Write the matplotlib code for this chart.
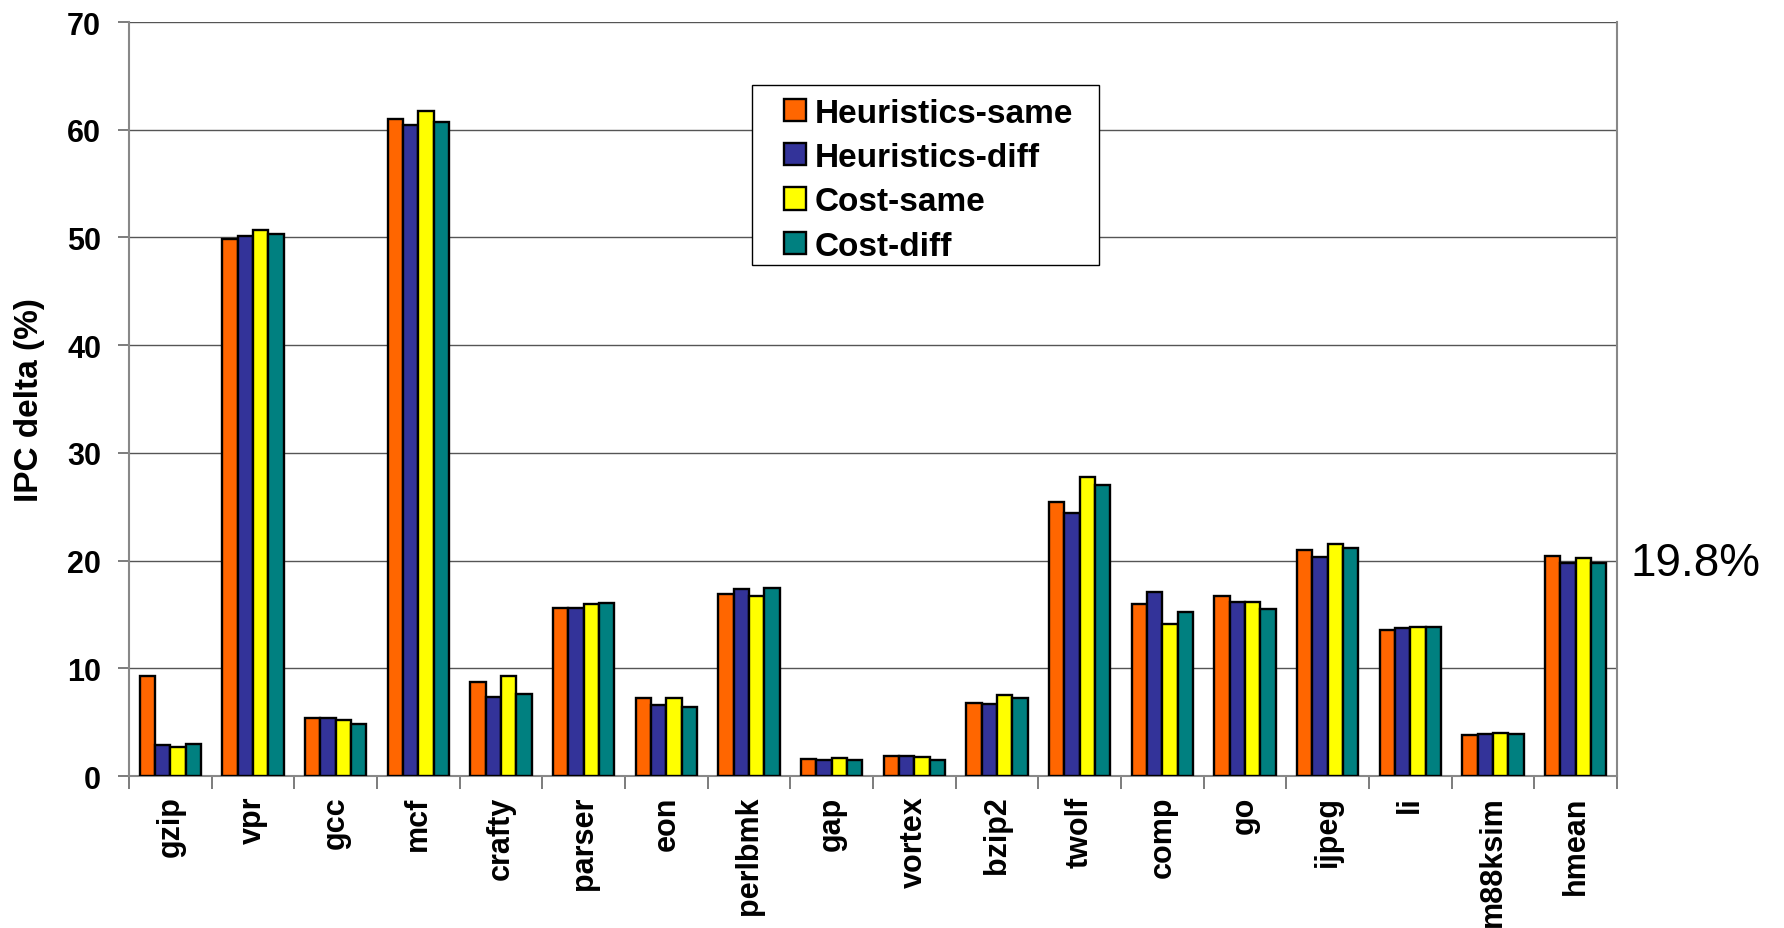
import numpy as np
import matplotlib
matplotlib.use("Agg")
from matplotlib import pyplot as plt
from matplotlib.patches import Rectangle

plt.rcParams['font.family'] = ['Liberation Sans', 'DejaVu Sans']

benchmarks = ["gzip", "vpr", "gcc", "mcf", "crafty", "parser", "eon", "perlbmk",
              "gap", "vortex", "bzip2", "twolf", "comp", "go", "ijpeg", "li",
              "m88ksim", "hmean"]

heur_same = [9.3, 49.9, 5.4, 61.0, 8.7, 15.6, 7.2, 16.9, 1.6, 1.9, 6.8, 25.4, 16.0, 16.7, 21.0, 13.6, 3.8, 20.4]
heur_diff = [2.9, 50.1, 5.4, 60.4, 7.3, 15.6, 6.6, 17.4, 1.5, 1.9, 6.7, 24.4, 17.1, 16.2, 20.3, 13.7, 3.9, 19.8]
cost_same = [2.7, 50.7, 5.2, 61.7, 9.3, 16.0, 7.2, 16.7, 1.7, 1.8, 7.5, 27.8, 14.1, 16.2, 21.5, 13.8, 4.0, 20.2]
cost_diff = [3.0, 50.3, 4.8, 60.7, 7.6, 16.1, 6.4, 17.5, 1.5, 1.5, 7.2, 27.0, 15.2, 15.5, 21.2, 13.8, 3.9, 19.8]

series = [("Heuristics-same", heur_same, "#FF6600"),
          ("Heuristics-diff", heur_diff, "#333399"),
          ("Cost-same", cost_same, "#FFFF00"),
          ("Cost-diff", cost_diff, "#008080")]

fig = plt.figure(figsize=(17.84, 9.29), dpi=100)
ax = fig.add_axes([0.0723, 0.1636, 0.8341, 0.8116])

x = np.arange(len(benchmarks))
w = 0.185
for i, (name, vals, col) in enumerate(series):
    ax.bar(x + (i - 1.5) * w, vals, w, color=col, edgecolor="black",
           linewidth=1.7, label=name, zorder=3)

ax.set_xlim(-0.5, len(benchmarks) - 0.5)
ax.set_ylim(0, 70)
ax.set_yticks(range(0, 71, 10))
ax.yaxis.grid(True, color="#555555", linewidth=1.0, zorder=0)

# tick marks between groups, labels centred under groups
ax.set_xticks(np.arange(-0.5, len(benchmarks)), minor=False)
ax.set_xticklabels([])
ax.set_xticks(x, minor=True)
ax.set_xticklabels(benchmarks, minor=True, rotation=90, fontsize=22,
                   fontweight="bold", va="top")
ax.tick_params(axis="x", which="minor", length=0, pad=14)
ax.tick_params(axis="x", which="major", length=9, width=1.2, color="#666666")
ax.tick_params(axis="y", length=8, width=1.2, color="#666666", labelsize=22, pad=12)
for lbl in ax.get_yticklabels():
    lbl.set_fontweight("bold")

for s in ax.spines.values():
    s.set_color("#888888")
    s.set_linewidth(1.5)
ax.spines["top"].set_visible(False)

ax.set_ylabel("IPC delta (%)", fontsize=24, fontweight="bold", labelpad=16)

# legend entries without frame, box drawn separately for wider margins
ax.add_patch(Rectangle((0.4187, 0.6777), 0.2332, 0.2387, transform=ax.transAxes,
                       facecolor="white", edgecolor="black", linewidth=1.0,
                       zorder=4))
leg = ax.legend(loc="upper left", bbox_to_anchor=(0.4402, 0.8997),
                prop={"weight": "bold", "size": 24}, frameon=False,
                handlelength=0.65, handleheight=0.65, handletextpad=0.26,
                labelspacing=0.4, borderpad=0, borderaxespad=0)
leg.set_zorder(5)

ax.annotate("19.8%", xy=(1.0, heur_diff[-1]), xycoords=("axes fraction", "data"),
            xytext=(10, 0), textcoords="offset points", fontsize=33,
            va="center", ha="left", annotation_clip=False)

fig.savefig("out.png", dpi=100)
